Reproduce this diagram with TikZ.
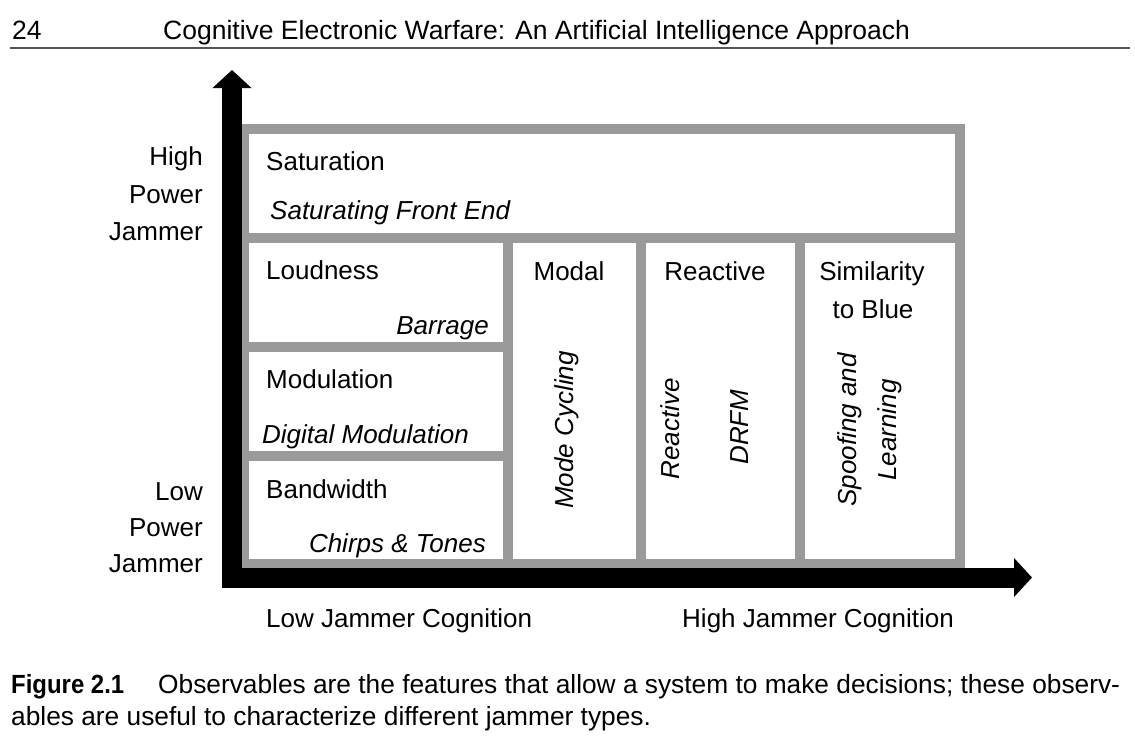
\documentclass[tikz,border=0pt]{standalone}
\usepackage{fontspec}
\usepackage{graphicx}
\setmainfont{Liberation Sans}
\usetikzlibrary{arrows.meta}
\definecolor{gridgray}{RGB}{154,154,154}
\definecolor{rulegray}{RGB}{85,85,85}
\begin{document}
\begin{tikzpicture}[x=1pt,y=-1pt,
  cell/.style={draw=gridgray, line width=10pt, inner sep=0pt, fill=white},
  lbl/.style={font=\fontsize{26}{30}\selectfont, inner sep=0pt},
  ex/.style={font=\fontsize{26}{30}\selectfont\itshape, inner sep=0pt},
  hdr/.style={font=\fontsize{26.5}{30}\selectfont, inner sep=0pt},
  captext/.style={font=\fontsize{26.3}{32}\selectfont, inner sep=0pt},
  axisarrow/.style={line width=20pt, -{Triangle[length=18pt,width=38pt]}},
]
\useasboundingbox (0,0) rectangle (1135,750);

% header
\node[hdr, anchor=base west] (pagenum) at (12,39) {24};
\node[hdr, anchor=base west] (title) at (163,39) {Cognitive Electronic Warfare: An Artificial Intelligence Approach};
\coordinate (ruleL) at (10,48);
\coordinate (ruleR) at (1130,48);
\draw[rulegray, line width=2pt] (ruleL) -- (ruleR);

% cells
\node[cell, minimum width=716pt, minimum height=109pt] (sat) at (602,183.5) {};
\node[cell, minimum width=264pt, minimum height=109pt] (loud) at (376,292.5) {};
\node[cell, minimum width=264pt, minimum height=109pt] (modu) at (376,401.5) {};
\node[cell, minimum width=264pt, minimum height=108pt] (band) at (376,510) {};
\node[cell, minimum width=133pt, minimum height=326pt] (modal) at (574.5,401) {};
\node[cell, minimum width=159pt, minimum height=326pt] (react) at (720.5,401) {};
\node[cell, minimum width=160pt, minimum height=326pt] (sim) at (880,401) {};

% axes
\coordinate (ybot) at (232,587);
\coordinate (ytop) at (232,70);
\draw[axisarrow] (ybot) -- (ytop);
\coordinate (xl) at (222,577.5);
\coordinate (xr) at (1032,577.5);
\draw[axisarrow] (xl) -- (xr);

% cell texts
\node[lbl, anchor=base west] (satT) at (266,170) {Saturation};
\node[ex, anchor=base west] (satE) at (270,219) {Saturating Front End};
\node[lbl, anchor=base west] (loudT) at (266,279) {Loudness};
\node[ex, anchor=base east] (loudE) at (489,334) {Barrage};
\node[lbl, anchor=base west] (moduT) at (266,388) {Modulation};
\node[ex, anchor=base west] (moduE) at (262,443) {Digital Modulation};
\node[lbl, anchor=base west] (bandT) at (266,498) {Bandwidth};
\node[ex, anchor=base east] (bandE) at (486,552) {Chirps \& Tones};
\node[lbl, anchor=base] (modalT) at (569,280) {Modal};
\node[lbl, anchor=base] (reactT) at (715,280) {Reactive};
\node[lbl, anchor=base] (simT1) at (872,280) {Similarity};
\node[lbl, anchor=base] (simT2) at (873,318) {to Blue};
\node[ex, rotate=90] (modalE) at (566.5,430) {Mode Cycling};
\node[ex, rotate=90] (reactE1) at (670,429) {Reactive};
\node[ex, rotate=90] (reactE2) at (740,427) {DRFM};
\node[ex, rotate=90, align=center, font=\fontsize{26}{40}\selectfont\itshape] (simE) at (869.5,430) {Spoofing and\\Learning};

% axis labels
\node[lbl, anchor=base east] (hi1) at (203,165) {High};
\node[lbl, anchor=base east] (hi2) at (203,203) {Power};
\node[lbl, anchor=base east] (hi3) at (203,240) {Jammer};
\node[lbl, anchor=base east] (lo1) at (203,500) {Low};
\node[lbl, anchor=base east] (lo2) at (203,536) {Power};
\node[lbl, anchor=base east] (lo3) at (203,572) {Jammer};
\node[lbl, anchor=base west] (lowcog) at (266,627) {Low Jammer Cognition};
\node[lbl, anchor=base west] (highcog) at (682,627) {High Jammer Cognition};

% caption
\node[captext, anchor=base west] (figlbl) at (11,693) {\scalebox{0.91}[1]{\bfseries Figure 2.1}};
\node[captext, anchor=base west] (cap1) at (158,693) {Observables are the features that allow a system to make decisions; these observ-};
\node[captext, anchor=base west] (cap2) at (11,725) {ables are useful to characterize different jammer types.};
\end{tikzpicture}
\end{document}
